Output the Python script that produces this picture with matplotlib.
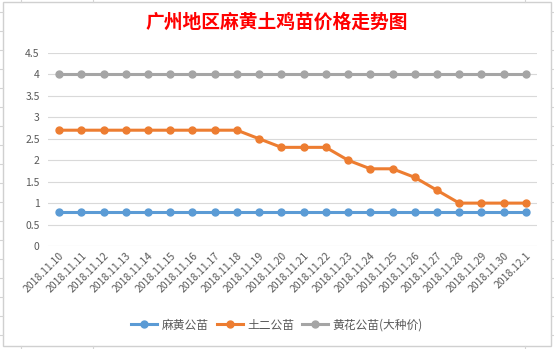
import numpy as np
import matplotlib.pyplot as plt
from matplotlib.patches import Rectangle
from matplotlib.lines import Line2D

plt.rcParams['font.family'] = ['Noto Sans CJK SC', 'DejaVu Sans']

dates = ['2018.11.10', '2018.11.11', '2018.11.12', '2018.11.13', '2018.11.14',
         '2018.11.15', '2018.11.16', '2018.11.17', '2018.11.18', '2018.11.19',
         '2018.11.20', '2018.11.21', '2018.11.22', '2018.11.23', '2018.11.24',
         '2018.11.25', '2018.11.26', '2018.11.27', '2018.11.28', '2018.11.29',
         '2018.11.30', '2018.12.1']
mahuang = [0.8] * 22
tuer = [2.7, 2.7, 2.7, 2.7, 2.7, 2.7, 2.7, 2.7, 2.7, 2.5, 2.3,
        2.3, 2.3, 2.0, 1.8, 1.8, 1.6, 1.3, 1.0, 1.0, 1.0, 1.0]
huanghua = [4.0] * 22

series = [('麻黄公苗', mahuang, '#5B9BD5'),
          ('土二公苗', tuer, '#ED7D31'),
          ('黄花公苗(大种价)', huanghua, '#A5A5A5')]

W, H = 554, 349
fig = plt.figure(figsize=(W / 100, H / 100), dpi=100)

# spreadsheet cell lines around the chart
cell = '#D4D4D4'
for x in [21, 93, 525]:
    fig.add_artist(Line2D([x / W, x / W], [1, 1 - 2 / H], color=cell, lw=0.8))
    fig.add_artist(Line2D([x / W, x / W], [0, 3 / H], color=cell, lw=0.8))
for y in np.arange(12, 349, 19):
    fig.add_artist(Line2D([0, 3 / W], [1 - y / H, 1 - y / H], color=cell, lw=0.8))
    fig.add_artist(Line2D([1 - 3 / W, 1], [1 - y / H, 1 - y / H], color=cell, lw=0.8))
fig.add_artist(Rectangle((3 / W, 3 / H), 548 / W, 344 / H, transform=fig.transFigure,
                         fill=False, edgecolor='#D0D0D0', lw=1))

ax = fig.add_axes([48 / W, 1 - 246 / H, (537 - 48) / W, (246 - 53) / H])
x = np.arange(len(dates))
for name, vals, c in series:
    ax.plot(x, vals, color=c, lw=2.2, marker='o', markersize=5, label=name)

ax.set_xlim(-0.5, len(dates) - 0.5)
ax.set_ylim(0, 4.5)
ax.set_yticks(np.arange(0, 4.51, 0.5))
ax.set_yticklabels(['0', '0.5', '1', '1.5', '2', '2.5', '3', '3.5', '4', '4.5'])
ax.set_xticks(x)
ax.set_xticklabels(dates, rotation=45, ha='right', rotation_mode='anchor')
ax.grid(axis='y', color='#D9D9D9', lw=0.8)
ax.set_axisbelow(True)
for s in ax.spines.values():
    s.set_visible(False)
ax.tick_params(length=0, colors='#595959', labelsize=7.5)
ax.tick_params(axis='y', pad=6)

fig.text(0.5, 1 - 22 / H, '广州地区麻黄土鸡苗价格走势图', color='red',
         fontsize=13.5, fontweight='bold', ha='center', va='center')

fig.legend(loc='center', bbox_to_anchor=(0.5, 1 - 325 / H), ncol=3, frameon=False,
           fontsize=8.5, handlelength=2.2, columnspacing=0.7, handletextpad=0.35,
           labelcolor='#595959')

fig.savefig('out.png', dpi=100)
